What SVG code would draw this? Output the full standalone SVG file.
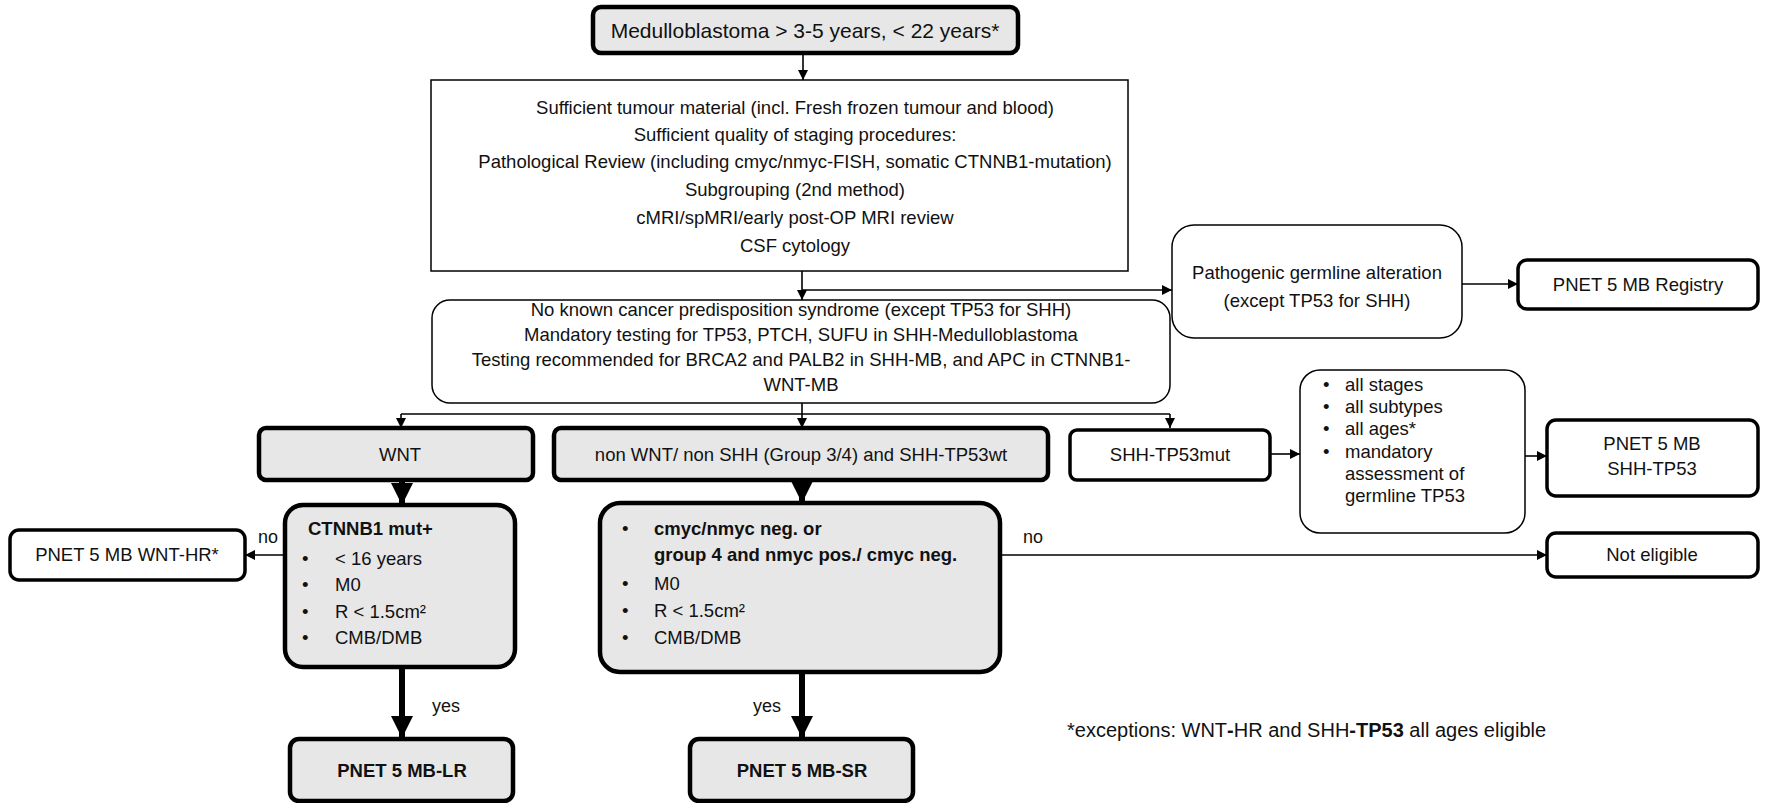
<svg xmlns="http://www.w3.org/2000/svg" width="1767" height="803" viewBox="0 0 1767 803">
<style>
.t{font-family:"Liberation Sans",Arial,sans-serif;font-size:18px;fill:#111}
.m{font-size:18.5px}
.c{text-anchor:middle}
.b{font-weight:bold}
.gray{fill:#e7e7e7;stroke:#000;stroke-width:4.5}
.thin{fill:#fff;stroke:#000;stroke-width:1.5}
.med{fill:#fff;stroke:#000;stroke-width:3.5}
.conn{stroke:#000;stroke-width:1.6;fill:none}
.thick{stroke:#000;stroke-width:6;fill:none}
</style>
<defs>
<marker id="a" markerUnits="userSpaceOnUse" markerWidth="10" markerHeight="10" refX="10" refY="5" orient="auto"><path d="M0,0 L10,5 L0,10 z" fill="#000"/></marker>
<marker id="A" markerUnits="userSpaceOnUse" markerWidth="24" markerHeight="24" refX="22" refY="12" orient="auto"><path d="M0,1 L22,12 L0,23 z" fill="#000"/></marker>
</defs>
<rect width="1767" height="803" fill="#fff"/>

<g id="connectors">
<path class="conn" d="M803,53 V80" marker-end="url(#a)"/>
<path class="conn" d="M802,271 V300" marker-end="url(#a)"/>
<path class="conn" d="M802,290 H1172" marker-end="url(#a)"/>
<path class="conn" d="M1462,284 H1518" marker-end="url(#a)"/>
<path class="conn" d="M802,403 V428" marker-end="url(#a)"/>
<path class="conn" d="M401,414 H1170"/>
<path class="conn" d="M401,414 V428" marker-end="url(#a)"/>
<path class="conn" d="M1170,414 V428" marker-end="url(#a)"/>
<path class="conn" d="M1270,454 H1300" marker-end="url(#a)"/>
<path class="conn" d="M1525,456 H1547" marker-end="url(#a)"/>
<path class="conn" d="M284,555 H245" marker-end="url(#a)"/>
<path class="conn" d="M1000,555 H1547" marker-end="url(#a)"/>
<path class="thick" d="M402,480 V505" marker-end="url(#A)"/>
<path class="thick" d="M802,480 V503" marker-end="url(#A)"/>
<path class="thick" d="M402,667 V738" marker-end="url(#A)"/>
<path class="thick" d="M802,672 V738" marker-end="url(#A)"/>
<text class="t" x="258" y="543">no</text>
<text class="t" x="1023" y="543">no</text>
<text class="t" x="432" y="712">yes</text>
<text class="t" x="753" y="712">yes</text>
</g>

<g id="n-top">
<rect class="gray" x="593" y="7" width="425" height="46" rx="8"/>
<text class="t c" x="805" y="38" style="font-size:21px">Medulloblastoma &gt; 3-5 years, &lt; 22 years*</text>
</g>

<g id="n-requirements">
<rect class="thin" x="431" y="80" width="697" height="191"/>
<text class="t m c" x="795" y="114">Sufficient tumour material (incl. Fresh frozen tumour and blood)</text>
<text class="t m c" x="795" y="141">Sufficient quality of staging procedures:</text>
<text class="t m c" x="795" y="168">Pathological Review (including cmyc/nmyc-FISH, somatic CTNNB1-mutation)</text>
<text class="t m c" x="795" y="196">Subgrouping (2nd method)</text>
<text class="t m c" x="795" y="224">cMRI/spMRI/early post-OP MRI review</text>
<text class="t m c" x="795" y="252">CSF cytology</text>
</g>

<g id="n-pathogenic">
<rect class="thin" x="1172" y="225" width="290" height="113" rx="22"/>
<text class="t m c" x="1317" y="279">Pathogenic germline alteration</text>
<text class="t m c" x="1317" y="307">(except TP53 for SHH)</text>
</g>

<g id="n-registry">
<rect class="med" x="1518" y="260" width="240" height="49" rx="9"/>
<text class="t m c" x="1638" y="291">PNET 5 MB Registry</text>
</g>

<g id="n-predisposition">
<rect class="thin" x="432" y="300" width="738" height="103" rx="18"/>
<text class="t m c" x="801" y="316">No known cancer predisposition syndrome (except TP53 for SHH)</text>
<text class="t m c" x="801" y="341">Mandatory testing for TP53, PTCH, SUFU in SHH-Medulloblastoma</text>
<text class="t m c" x="801" y="366">Testing recommended for BRCA2 and PALB2 in SHH-MB, and APC in CTNNB1-</text>
<text class="t m c" x="801" y="391">WNT-MB</text>
</g>

<g id="n-wnt">
<rect class="gray" x="259" y="428" width="274" height="52" rx="7"/>
<text class="t m c" x="400" y="461">WNT</text>
</g>

<g id="n-nonwnt">
<rect class="gray" x="554" y="428" width="494" height="52" rx="7"/>
<text class="t m c" x="801" y="461">non WNT/ non SHH (Group 3/4) and SHH-TP53wt</text>
</g>

<g id="n-shhmut">
<rect class="med" x="1070" y="430" width="200" height="50" rx="7"/>
<text class="t m c" x="1170" y="461">SHH-TP53mut</text>
</g>

<g id="n-allstages">
<rect class="thin" x="1300" y="370" width="225" height="163" rx="20"/>
<text class="t m" x="1323" y="391">•</text><text class="t m" x="1345" y="391">all stages</text>
<text class="t m" x="1323" y="413">•</text><text class="t m" x="1345" y="413">all subtypes</text>
<text class="t m" x="1323" y="435">•</text><text class="t m" x="1345" y="435">all ages*</text>
<text class="t m" x="1323" y="458">•</text><text class="t m" x="1345" y="458">mandatory</text>
<text class="t m" x="1345" y="480">assessment of</text>
<text class="t m" x="1345" y="502">germline TP53</text>
</g>

<g id="n-shhtp53">
<rect class="med" x="1547" y="420" width="211" height="76" rx="9"/>
<text class="t m c" x="1652" y="450">PNET 5 MB</text>
<text class="t m c" x="1652" y="475">SHH-TP53</text>
</g>

<g id="n-ctnnb1">
<rect class="gray" x="285" y="505" width="230" height="162" rx="18"/>
<text class="t m b" x="308" y="535">CTNNB1 mut+</text>
<text class="t m" x="302" y="565">•</text><text class="t m" x="335" y="565">&lt; 16 years</text>
<text class="t m" x="302" y="591">•</text><text class="t m" x="335" y="591">M0</text>
<text class="t m" x="302" y="618">•</text><text class="t m" x="335" y="618">R &lt; 1.5cm²</text>
<text class="t m" x="302" y="644">•</text><text class="t m" x="335" y="644">CMB/DMB</text>
</g>

<g id="n-wnthr">
<rect class="med" x="10" y="530" width="235" height="50" rx="9"/>
<text class="t m c" x="127" y="561">PNET 5 MB WNT-HR*</text>
</g>

<g id="n-criteria">
<rect class="gray" x="600" y="503" width="400" height="169" rx="20"/>
<text class="t m" x="622" y="535">•</text><text class="t m b" x="654" y="535">cmyc/nmyc neg. or</text>
<text class="t m b" x="654" y="561">group 4 and nmyc pos./ cmyc neg.</text>
<text class="t m" x="622" y="590">•</text><text class="t m" x="654" y="590">M0</text>
<text class="t m" x="622" y="617">•</text><text class="t m" x="654" y="617">R &lt; 1.5cm²</text>
<text class="t m" x="622" y="644">•</text><text class="t m" x="654" y="644">CMB/DMB</text>
</g>

<g id="n-noteligible">
<rect class="med" x="1547" y="533" width="211" height="44" rx="9"/>
<text class="t m c" x="1652" y="561">Not eligible</text>
</g>

<g id="n-lr">
<rect class="gray" x="290" y="739" width="223" height="62" rx="9"/>
<text class="t m c b" x="402" y="777">PNET 5 MB-LR</text>
</g>

<g id="n-sr">
<rect class="gray" x="690" y="739" width="223" height="62" rx="9"/>
<text class="t m c b" x="802" y="777">PNET 5 MB-SR</text>
</g>

<text class="t" x="1067" y="737" style="font-size:20px">*exceptions: WNT<tspan class="b">-</tspan>HR and SHH<tspan class="b">-TP53</tspan> all ages eligible</text>
</svg>
